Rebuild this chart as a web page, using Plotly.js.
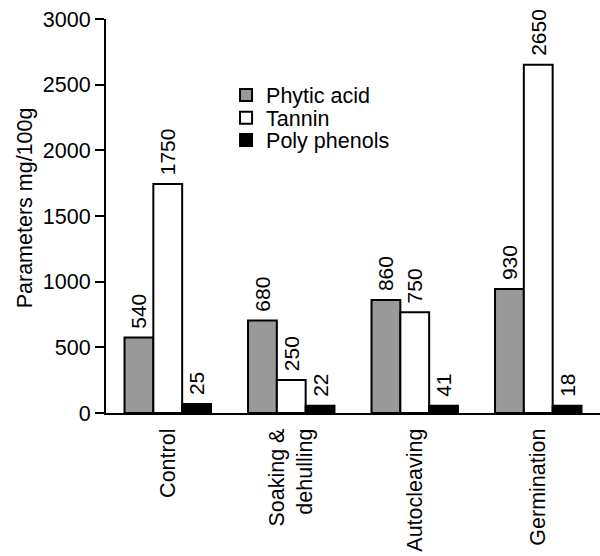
<!DOCTYPE html>
<html>
<head>
<meta charset="utf-8">
<script src="https://cdn.plot.ly/plotly-3.0.1.min.js"></script>
<style>html,body{margin:0;padding:0;background:#fff;}#chart{width:600px;height:556px;}</style>
</head>
<body>
<div id="chart"></div>
<script>
// Categories (x tick labels)
const categories = ["Control", "Soaking &<br>dehulling", "Autocleaving", "Germination"];
const seriesNames = ["Phytic acid", "Tannin", "Poly phenols"];
// Bar heights as drawn in the picture
const phyticHeights = [574, 704, 861, 945];
const tanninHeights = [1743, 251, 767, 2652];
const polyHeights = [69, 56, 56, 56];
// Printed value labels
const phyticLabels = ["540", "680", "860", "930"];
const tanninLabels = ["1750", "250", "750", "2650"];
const polyLabels = ["25", "22", "41", "18"];
const yTitle = "Parameters mg/100g";

const colors = ["#999999", "#ffffff", "#000000"];
const heights = [phyticHeights, tanninHeights, polyHeights];
const labels = [phyticLabels, tanninLabels, polyLabels];
const legendIds = ["legend", "legend2", "legend3"];
const FONT = "Liberation Sans, Arial, sans-serif";
const FS = 21.5;

const data = seriesNames.map((name, i) => ({
  type: "bar",
  name: name,
  legend: legendIds[i],
  x: categories,
  y: heights[i],
  text: labels[i],
  texttemplate: "\u00a0%{text}",
  textposition: "outside",
  textangle: -90,
  constraintext: "none",
  cliponaxis: false,
  textfont: {family: FONT, size: 21, color: "#000"},
  marker: {color: colors[i], line: {color: "#000", width: 2}},
  hoverinfo: "none"
}));

function leg(yc) {
  return {
    x: 0.243, y: yc, xanchor: "left", yanchor: "middle",
    bgcolor: "rgba(0,0,0,0)", font: {family: FONT, size: FS, color: "#000"},
    borderwidth: 0
  };
}

const layout = {
  width: 600, height: 556,
  margin: {l: 106, r: 0, t: 19, b: 143},
  paper_bgcolor: "#fff", plot_bgcolor: "#fff",
  font: {family: FONT, size: FS, color: "#000"},
  barmode: "group",
  bargap: 0.3, bargroupgap: 0,
  showlegend: true,
  legend: leg(0.807),
  legend2: leg(0.749),
  legend3: leg(0.693),
  xaxis: {
    type: "category", range: [-0.5, 3.5],
    showline: true, linecolor: "#000", linewidth: 2,
    ticks: "", tickangle: -90, showgrid: false, zeroline: false,
    ticklabelstandoff: 5,
    tickfont: {family: FONT, size: FS, color: "#000"}, fixedrange: true
  },
  yaxis: {
    range: [0, 3000], tickvals: [0, 500, 1000, 1500, 2000, 2500, 3000],
    showline: true, linecolor: "#000", linewidth: 2,
    ticks: "outside", ticklen: 9, tickwidth: 2, tickcolor: "#000",
    showgrid: false, zeroline: false,
    tickfont: {family: FONT, size: FS, color: "#000"},
    fixedrange: true
  },
  annotations: [{
    text: yTitle, xref: "paper", yref: "paper",
    x: -0.164, y: 0.522, xanchor: "center", yanchor: "middle",
    textangle: -90, showarrow: false,
    font: {family: FONT, size: FS, color: "#000"}
  }]
};

Plotly.newPlot("chart", data, layout, {staticPlot: true, displayModeBar: false});
</script>
</body>
</html>
